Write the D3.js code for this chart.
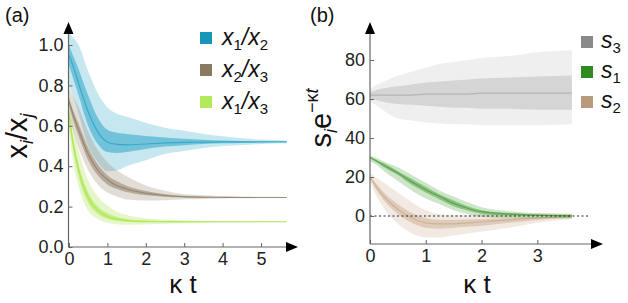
<!DOCTYPE html>
<html><head><meta charset="utf-8">
<script src="https://cdn.jsdelivr.net/npm/d3@7"></script>
<style>body{margin:0;background:#fff}svg{font-family:"Liberation Sans",Arial,Helvetica,sans-serif}</style>
</head><body><svg id="c" width="628" height="303"></svg>
<script>
// ---------- Data: panel (a) ----------
const tA = [0, 0.1, 0.25, 0.5, 0.75, 1, 1.25, 1.5, 2, 2.5, 3, 3.5, 4, 4.5, 5, 5.67];
const x12 = {
  hi:  [1.06, 1.04, 1.0, 0.87, 0.76, 0.69, 0.66, 0.645, 0.615, 0.59, 0.575, 0.56, 0.548, 0.538, 0.532, 0.527],
  q3:  [1.0, 0.95, 0.88, 0.75, 0.64, 0.58, 0.565, 0.56, 0.55, 0.542, 0.536, 0.531, 0.527, 0.525, 0.523, 0.522],
  med: [0.95, 0.9, 0.81, 0.67, 0.57, 0.52, 0.508, 0.506, 0.51, 0.515, 0.518, 0.519, 0.52, 0.52, 0.52, 0.52],
  q1:  [0.9, 0.84, 0.75, 0.6, 0.51, 0.47, 0.465, 0.47, 0.485, 0.497, 0.504, 0.51, 0.513, 0.515, 0.517, 0.518],
  lo:  [0.8, 0.75, 0.66, 0.5, 0.42, 0.375, 0.38, 0.4, 0.43, 0.46, 0.475, 0.49, 0.5, 0.505, 0.51, 0.513]
};
const x23 = {
  hi:  [0.79, 0.75, 0.69, 0.57, 0.48, 0.42, 0.38, 0.35, 0.305, 0.278, 0.262, 0.256, 0.252, 0.25, 0.249, 0.248],
  q3:  [0.74, 0.68, 0.61, 0.49, 0.41, 0.355, 0.325, 0.303, 0.277, 0.261, 0.252, 0.249, 0.248, 0.247, 0.246, 0.246],
  med: [0.72, 0.66, 0.58, 0.46, 0.38, 0.333, 0.303, 0.287, 0.266, 0.255, 0.249, 0.247, 0.246, 0.245, 0.245, 0.245],
  q1:  [0.7, 0.63, 0.55, 0.43, 0.355, 0.31, 0.287, 0.272, 0.256, 0.249, 0.245, 0.244, 0.244, 0.244, 0.244, 0.244],
  lo:  [0.65, 0.58, 0.49, 0.38, 0.31, 0.27, 0.25, 0.235, 0.23, 0.232, 0.236, 0.238, 0.24, 0.241, 0.242, 0.242]
};
const x13 = {
  hi:  [0.72, 0.61, 0.48, 0.33, 0.25, 0.205, 0.175, 0.158, 0.142, 0.136, 0.132, 0.13, 0.129, 0.128, 0.128, 0.127],
  q3:  [0.67, 0.55, 0.41, 0.27, 0.2, 0.167, 0.149, 0.139, 0.13, 0.128, 0.127, 0.126, 0.126, 0.126, 0.126, 0.126],
  med: [0.65, 0.52, 0.38, 0.245, 0.18, 0.151, 0.138, 0.131, 0.127, 0.126, 0.125, 0.125, 0.125, 0.125, 0.125, 0.125],
  q1:  [0.63, 0.49, 0.35, 0.22, 0.165, 0.14, 0.13, 0.125, 0.122, 0.122, 0.123, 0.123, 0.124, 0.124, 0.124, 0.124],
  lo:  [0.58, 0.43, 0.3, 0.18, 0.14, 0.12, 0.113, 0.11, 0.112, 0.115, 0.117, 0.119, 0.12, 0.121, 0.122, 0.122]
};
const ticksAx = [0, 1, 2, 3, 4, 5];
const ticksAy = [0, 0.2, 0.4, 0.6, 0.8, 1.0];

// ---------- Data: panel (b) ----------
const tB = [0, 0.1, 0.25, 0.5, 0.75, 1, 1.25, 1.5, 1.75, 2, 2.5, 3, 3.62];
const s3 = {
  hi:  [65, 67, 69, 72, 74, 76, 78, 79, 80, 81, 82, 84, 85],
  q3:  [63.5, 64.5, 65.5, 66.5, 67.5, 68.5, 69, 69.5, 70, 70.5, 71, 71.5, 72],
  med: [62, 62, 62, 62, 62, 62.5, 62.5, 62.5, 62.5, 63, 63, 63, 63],
  q1:  [60.5, 59.5, 58.5, 57.5, 57, 56.5, 56, 55.5, 55.5, 55, 55, 54.5, 54.5],
  lo:  [59, 57, 54, 50, 49, 48, 47.5, 47, 47, 46.5, 46.5, 46.5, 47]
};
const s1 = {
  hi:  [31, 30, 28, 25, 21, 17, 13, 10, 7, 4.5, 2.5, 1.5, 1.2],
  q3:  [30.5, 29, 27, 23, 19, 15, 11, 8, 5, 3, 1.5, 0.8, 0.5],
  med: [30, 28.5, 26, 22, 17.5, 13.5, 10, 6.5, 4, 2.2, 1, 0.4, 0.1],
  q1:  [29.5, 28, 25, 21, 16, 12, 8.5, 5, 2.8, 1.2, 0.3, 0, -0.3],
  lo:  [28, 26.5, 23, 18, 13, 9, 6, 3, 1, -0.5, -1, -1.2, -1.3]
};
const s2 = {
  hi:  [22, 20, 17, 12, 7, 3, 1, 0.5, 0.5, 1, 1.2, 1.2, 1],
  q3:  [20.5, 17, 12, 6, 1.5, -1, -2, -2, -1.8, -1.5, -1, -0.5, -0.2],
  med: [20, 15.5, 10, 3.5, -1, -3.5, -4, -4, -3.5, -3, -2, -1, -0.4],
  q1:  [19.5, 14, 8, 1, -3.5, -6, -6.5, -6, -5.5, -5, -3.5, -2, -0.8],
  lo:  [18, 11, 4, -4, -9, -11, -11, -10, -9, -8, -6, -3.5, -1.5]
};
const ticksBx = [0, 1, 2, 3];
const ticksBy = [0, 20, 40, 60, 80];

const seriesA = [
  {name: ["x", "1", "x", "2"], d: x12, color: "#1e9fc4", legend: "#1597b8", o: [0.25, 0.5, 0.7]},
  {name: ["x", "2", "x", "3"], d: x23, color: "#8a7760", legend: "#8a7a62", o: [0.25, 0.5, 0.7]},
  {name: ["x", "1", "x", "3"], d: x13, color: "#a9e64a", legend: "#b3ea5c", o: [0.3, 0.55, 0.75]}
];
const seriesB = [
  {name: ["s", "3"], d: s3, color: "#8c8c8c", legend: "#8a8a8a", o: [0.14, 0.26, 0.45]},
  {name: ["s", "2"], d: s2, color: "#c29e7c", legend: "#b89b7c", o: [0.22, 0.4, 0.55]},
  {name: ["s", "1"], d: s1, color: "#3c962a", legend: "#2f8a1f", o: [0.25, 0.45, 0.6]}
];
const legendOrderB = ["3", "1", "2"];

const svg = d3.select("#c");

// ---------- Scales ----------
const xA = d3.scaleLinear().domain([0, 5]).range([69, 261]);
const yA = d3.scaleLinear().domain([0, 1]).range([247, 45]);
const xB = d3.scaleLinear().domain([0, 3]).range([370, 537.3]);
const yB = d3.scaleLinear().domain([0, 80]).range([216, 60]);

function drawBundle(g, t, d, x, y, color, o) {
  const idx = t.map((_, i) => i);
  const band = (a, b) => d3.area().curve(d3.curveMonotoneX)
    .x(i => x(t[i])).y0(i => y(d[a][i])).y1(i => y(d[b][i]));
  g.append("path").attr("d", band("lo", "hi")(idx)).attr("fill", color).attr("fill-opacity", o[0]);
  g.append("path").attr("d", band("q1", "q3")(idx)).attr("fill", color).attr("fill-opacity", o[1]);
  g.append("path").attr("d", d3.line().curve(d3.curveMonotoneX).x(i => x(t[i])).y(i => y(d.med[i]))(idx))
    .attr("fill", "none").attr("stroke", color).attr("stroke-opacity", o[2]).attr("stroke-width", 1.2);
}

function axes(g, x, y, xt, yt, xfmt, yfmt, x0, y0, xEnd, yEnd) {
  const ax = g.append("g").attr("transform", `translate(0,${y0})`)
    .call(d3.axisBottom(x).tickValues(xt).tickFormat(xfmt).tickSizeInner(-4).tickSizeOuter(0).tickPadding(5));
  const ay = g.append("g").attr("transform", `translate(${x0},0)`)
    .call(d3.axisLeft(y).tickValues(yt).tickFormat(yfmt).tickSizeInner(-4).tickSizeOuter(0).tickPadding(5));
  [ax, ay].forEach(a => {
    a.select(".domain").remove();
    a.selectAll("line").attr("stroke", "#666");
    a.selectAll("text").attr("font-size", 18).attr("fill", "#222");
  });
  g.append("line").attr("x1", x0).attr("x2", xEnd - 10).attr("y1", y0).attr("y2", y0).attr("stroke", "#666").attr("stroke-width", 1.2);
  g.append("line").attr("x1", x0).attr("x2", x0).attr("y1", y0).attr("y2", yEnd + 10).attr("stroke", "#666").attr("stroke-width", 1.2);
  g.append("path").attr("d", `M${xEnd},${y0} L${xEnd - 12},${y0 - 5} L${xEnd - 12},${y0 + 5} Z`).attr("fill", "#000");
  g.append("path").attr("d", `M${x0},${yEnd} L${x0 - 5},${yEnd + 12} L${x0 + 5},${yEnd + 12} Z`).attr("fill", "#000");
}

// ---------- Panel (a) ----------
const gA = svg.append("g");
seriesA.forEach(s => drawBundle(gA, tA, s.d, xA, yA, s.color, s.o));
axes(gA, xA, yA, ticksAx, ticksAy, d3.format("d"), d3.format(".1f"), 68.5, 247, 298, 22);

seriesA.forEach((s, i) => {
  const cy = 38 + i * 32;
  gA.append("rect").attr("x", 200).attr("y", cy - 6).attr("width", 12).attr("height", 12).attr("fill", s.legend);
  const tx = gA.append("text").attr("x", 222).attr("y", cy + 7).attr("font-size", 23).attr("font-style", "italic").attr("fill", "#111");
  tx.append("tspan").text(s.name[0]);
  tx.append("tspan").text(s.name[1]).attr("font-size", 15).attr("font-style", "normal").attr("dy", 5);
  tx.append("tspan").text("/").attr("dy", -5);
  tx.append("tspan").text(s.name[2]);
  tx.append("tspan").text(s.name[3]).attr("font-size", 15).attr("font-style", "normal").attr("dy", 5);
});

gA.append("text").attr("x", 5).attr("y", 22).attr("font-size", 20).attr("fill", "#111").text("(a)");
gA.append("text").attr("x", 183).attr("y", 293).attr("text-anchor", "middle").attr("font-size", 26).attr("fill", "#111").text("κ t");
const ylA = gA.append("text").attr("transform", "translate(27,136) rotate(-90)").attr("text-anchor", "middle").attr("font-size", 29).attr("fill", "#111");
ylA.append("tspan").text("x");
ylA.append("tspan").text("i").attr("font-size", 18).attr("dy", 6).attr("font-style", "italic");
ylA.append("tspan").text("/x").attr("dy", -6);
ylA.append("tspan").text("j").attr("font-size", 18).attr("dy", 6).attr("font-style", "italic");

// ---------- Panel (b) ----------
const gB = svg.append("g");
seriesB.forEach(s => drawBundle(gB, tB, s.d, xB, yB, s.color, s.o));
gB.append("line").attr("x1", xB(0)).attr("x2", 590).attr("y1", yB(0)).attr("y2", yB(0))
  .attr("stroke", "#222").attr("stroke-width", 1).attr("stroke-dasharray", "2,2.5");
axes(gB, xB, yB, ticksBx, ticksBy, d3.format("d"), d3.format("d"), 370, 244, 603, 22);

legendOrderB.forEach((k, i) => {
  const s = seriesB.find(q => q.name[1] === k);
  const cy = 42 + i * 30;
  gB.append("rect").attr("x", 581).attr("y", cy - 6).attr("width", 12).attr("height", 12).attr("fill", s.legend);
  const tx = gB.append("text").attr("x", 601).attr("y", cy + 6).attr("font-size", 23).attr("font-style", "italic").attr("fill", "#111");
  tx.append("tspan").text(s.name[0]);
  tx.append("tspan").text(s.name[1]).attr("font-size", 15).attr("font-style", "normal").attr("dy", 5);
});

gB.append("text").attr("x", 310).attr("y", 22).attr("font-size", 20).attr("fill", "#111").text("(b)");
gB.append("text").attr("x", 477).attr("y", 293).attr("text-anchor", "middle").attr("font-size", 26).attr("fill", "#111").text("κ t");
const ylB = gB.append("text").attr("transform", "translate(331,118) rotate(-90)").attr("text-anchor", "middle").attr("font-size", 29).attr("fill", "#111");
ylB.append("tspan").text("s");
ylB.append("tspan").text("i").attr("font-size", 18).attr("dy", 6).attr("font-style", "italic");
ylB.append("tspan").text("e").attr("dy", -6);
ylB.append("tspan").text("−κ").attr("font-size", 18).attr("dy", -13);
ylB.append("tspan").text("t").attr("font-size", 18).attr("font-style", "italic");
</script></body></html>
